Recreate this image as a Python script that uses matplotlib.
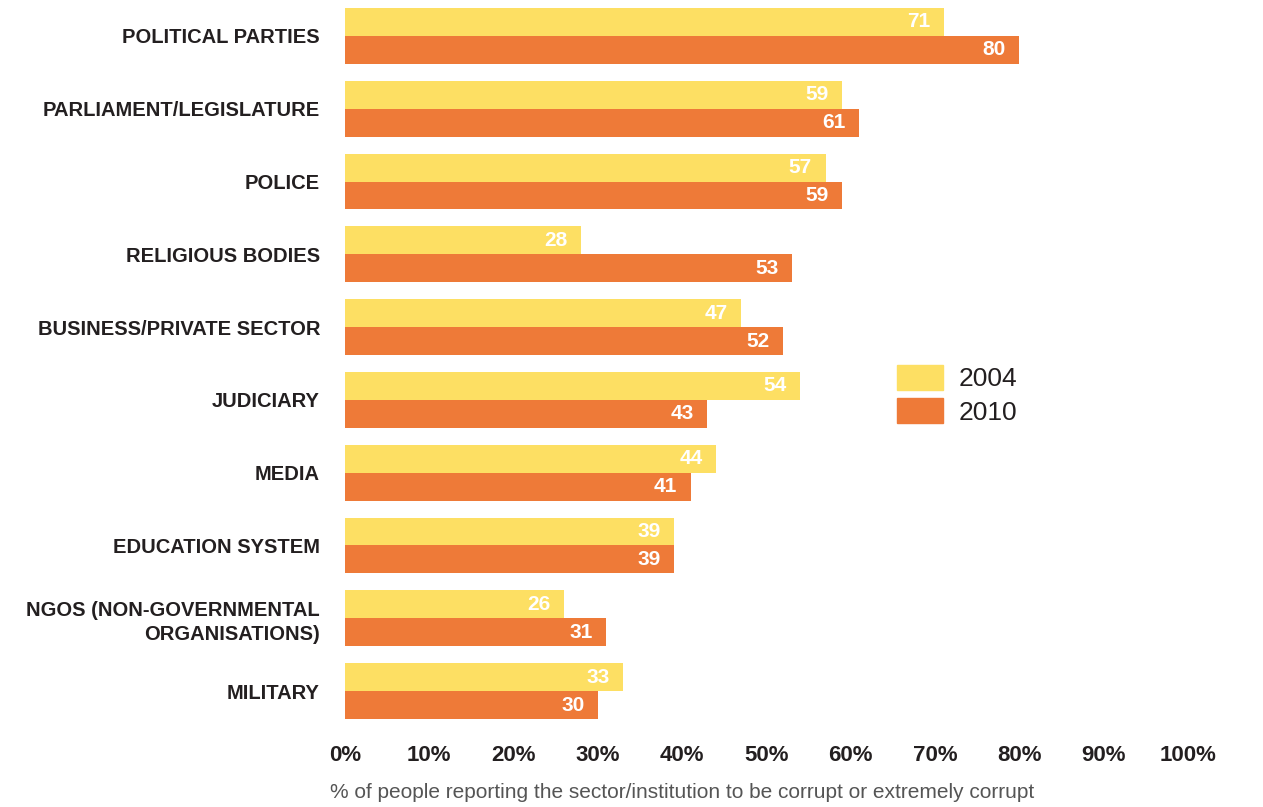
import numpy as np
import matplotlib.pyplot as plt
from matplotlib.patches import Patch

categories = ["POLITICAL PARTIES", "PARLIAMENT/LEGISLATURE", "POLICE", "RELIGIOUS BODIES",
              "BUSINESS/PRIVATE SECTOR", "JUDICIARY", "MEDIA", "EDUCATION SYSTEM",
              "NGOS (NON-GOVERNMENTAL\nORGANISATIONS)", "MILITARY"]
v2004 = [71, 59, 57, 28, 47, 54, 44, 39, 26, 33]
v2010 = [80, 61, 59, 53, 52, 43, 41, 39, 31, 30]
xticks = [0, 10, 20, 30, 40, 50, 60, 70, 80, 90, 100]

yellow = "#FDDF63"
orange = "#EE7A38"
dark = "#231F20"
cond = ["Liberation Sans Narrow", "Liberation Sans", "DejaVu Sans"]

fig = plt.figure(figsize=(12.63, 8.07), dpi=100)
ax = fig.add_axes([345 / 1263, 1 - 719 / 807, 843 / 1263, 711 / 807])

y = np.arange(len(categories))
h = 0.384
ax.barh(y - h / 2, v2004, height=h, color=yellow)
ax.barh(y + h / 2, v2010, height=h, color=orange)

for i in range(len(categories)):
    ax.text(v2004[i] - 1.6, y[i] - h / 2, str(v2004[i]), ha="right", va="center",
            color="white", fontsize=15, fontweight="bold", family=cond)
    ax.text(v2010[i] - 1.6, y[i] + h / 2, str(v2010[i]), ha="right", va="center",
            color="white", fontsize=15, fontweight="bold", family=cond)

ax.set_xlim(0, 100)
ax.set_ylim(len(categories) - 1 + h, -h)
ax.set_yticks(y)
ax.set_yticklabels(categories, family=cond, fontsize=14.5, fontweight="bold", color=dark,
                   linespacing=1.3)
ax.set_xticks(xticks)
ax.set_xticklabels([f"{t}%" for t in xticks], family=cond, fontsize=16, fontweight="bold",
                   color=dark)
ax.tick_params(axis="y", length=0, pad=18)
ax.tick_params(axis="x", length=0, pad=19)
for s in ax.spines.values():
    s.set_visible(False)

handles = [Patch(color=yellow, label="2004"), Patch(color=orange, label="2010")]
fig.legend(handles=handles, loc="upper left", bbox_to_anchor=(873 / 1263, 1 - 341 / 807),
           frameon=False, prop={"family": cond, "size": 19}, handlelength=1.75,
           handleheight=1.1, labelspacing=0.25, handletextpad=0.6, labelcolor=dark)

fig.text(330 / 1263, 1 - 793 / 807,
         "% of people reporting the sector/institution to be corrupt or extremely corrupt",
         ha="left", va="center", fontsize=15, color="#555555", family=["Liberation Sans", "DejaVu Sans"])

fig.savefig("out.png", dpi=100)
